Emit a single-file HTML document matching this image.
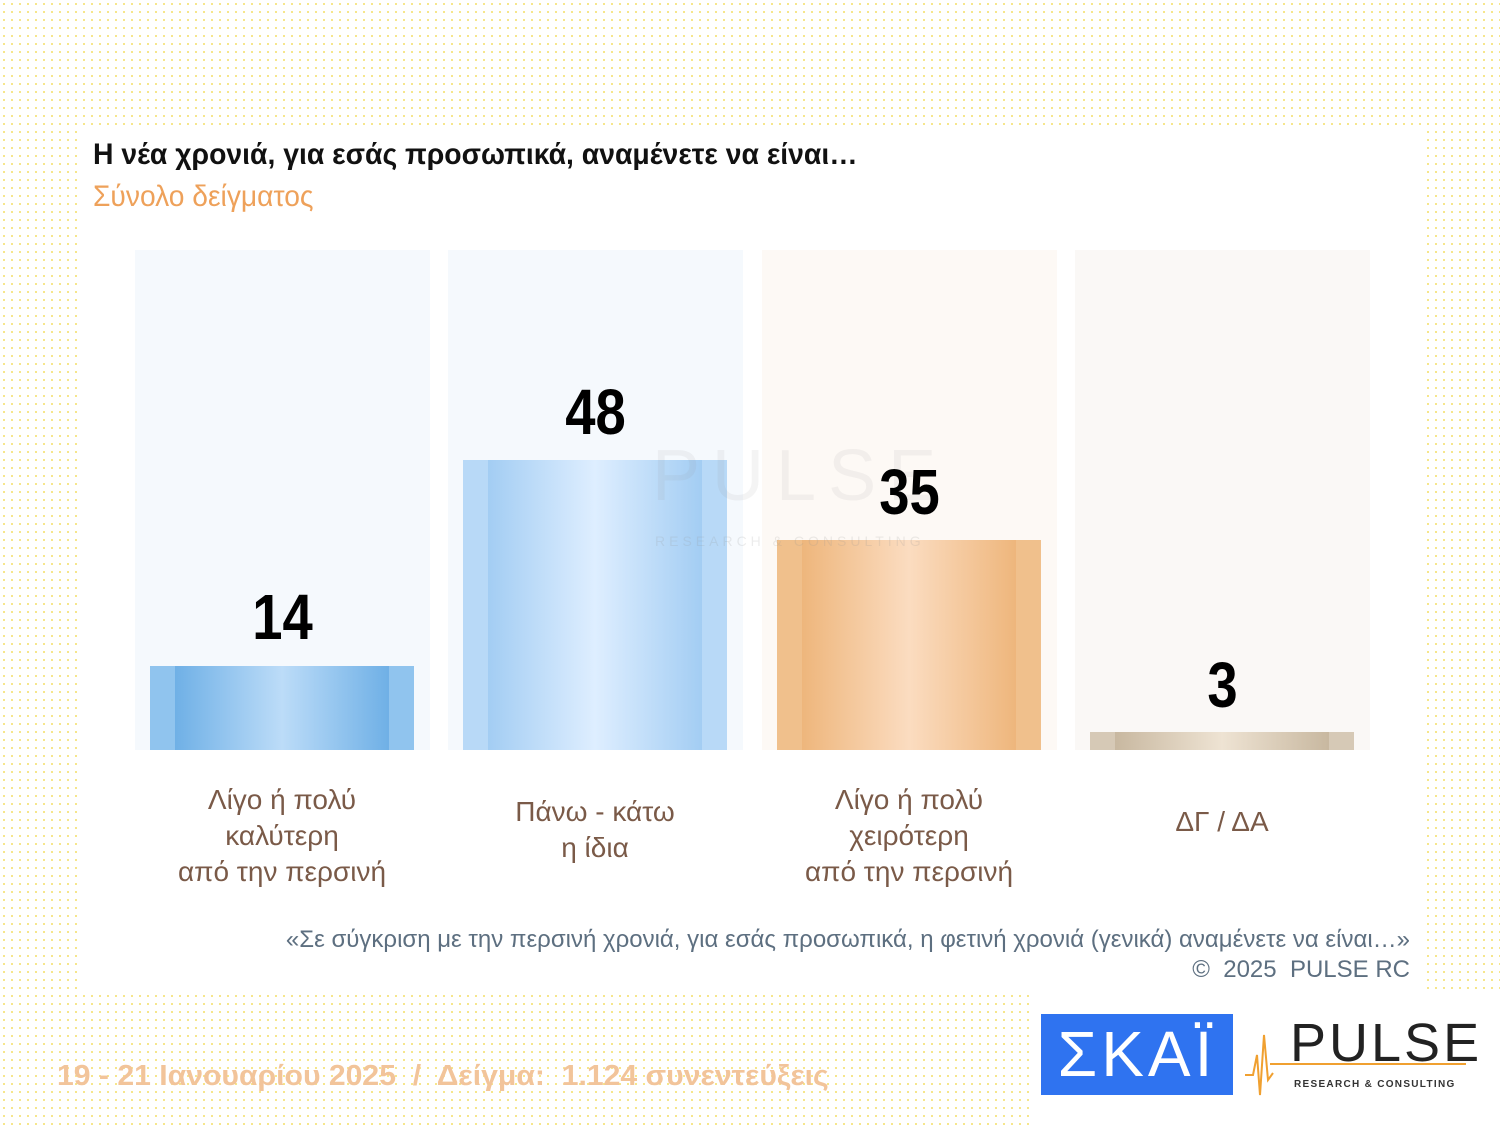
<!DOCTYPE html><html><head><meta charset="utf-8"><style>
body{margin:0;width:1500px;height:1125px;position:relative;overflow:hidden;font-family:"Liberation Sans",sans-serif;
background-color:#fff;background-image:radial-gradient(#f5e27a 0.9px,transparent 1.2px);background-size:8px 8px;}
.abs{position:absolute}
.panel{left:78px;top:125px;width:1347px;height:870px;background:#fff}
.col{top:250px;width:295px;height:500px}
.bar{width:264px}
.num{width:295px;text-align:center;font-weight:bold;font-size:64px;color:#000;transform:scaleX(.85)}
.lab{width:320px;text-align:center;color:#7a5a48;font-size:28px;line-height:36px}
.blue{background:linear-gradient(90deg,#90c4ee 0 25px,#6fb0e6 25px,#bcdcf8 50%,#6fb0e6 calc(100% - 25px),#90c4ee calc(100% - 25px))}
.blue2{background:linear-gradient(90deg,#b8d9f7 0 25px,#a3cdf3 25px,#deeeff 50%,#a3cdf3 calc(100% - 25px),#b8d9f7 calc(100% - 25px))}
.or{background:linear-gradient(90deg,#f0c08c 0 25px,#eeb67c 25px,#fbdcc0 50%,#eeb67c calc(100% - 25px),#f0c08c calc(100% - 25px))}
.gr{background:linear-gradient(90deg,#d6c9b6 0 25px,#c8b8a0 25px,#eee3d3 50%,#c8b8a0 calc(100% - 25px),#d6c9b6 calc(100% - 25px))}
</style></head><body>
<div class="abs panel"></div>
<div class="abs" style="left:93px;top:138px;font-size:30px;font-weight:bold;color:#111;transform:scaleX(.945);transform-origin:0 0">Η νέα χρονιά, για εσάς προσωπικά, αναμένετε να είναι…</div>
<div class="abs" style="left:93px;top:180px;font-size:30px;color:#eea15a;transform:scaleX(.94);transform-origin:0 0">Σύνολο δείγματος</div>

<div class="abs col" style="left:135px;background:#f5f9fd"></div>
<div class="abs col" style="left:448px;background:#f5f9fd"></div>
<div class="abs col" style="left:762px;background:#fdf9f5"></div>
<div class="abs col" style="left:1075px;background:#faf8f6"></div>

<div class="abs bar blue" style="left:150px;top:666px;height:84px"></div>
<div class="abs bar blue2" style="left:463px;top:460px;height:290px"></div>
<div class="abs bar or" style="left:777px;top:540px;height:210px"></div>
<div class="abs bar gr" style="left:1090px;top:732px;height:18px"></div>

<div class="abs" style="left:652px;top:435px;font-size:72px;color:rgba(150,150,150,.1);letter-spacing:12px">PULSE</div>
<div class="abs" style="left:655px;top:533px;font-size:14px;color:rgba(150,150,150,.18);letter-spacing:4px">RESEARCH &amp; CONSULTING</div>

<div class="abs num" style="left:135px;top:580px">14</div>
<div class="abs num" style="left:448px;top:375px">48</div>
<div class="abs num" style="left:762px;top:455px">35</div>
<div class="abs num" style="left:1075px;top:648px">3</div>

<div class="abs lab" style="left:122px;top:782px">Λίγο ή πολύ<br>καλύτερη<br>από την περσινή</div>
<div class="abs lab" style="left:435px;top:794px">Πάνω - κάτω<br>η ίδια</div>
<div class="abs lab" style="left:749px;top:782px">Λίγο ή πολύ<br>χειρότερη<br>από την περσινή</div>
<div class="abs lab" style="left:1062px;top:804px">ΔΓ / ΔΑ</div>

<div class="abs" style="right:90px;top:925px;text-align:right;color:#5d6f80;font-size:24px;line-height:30px">«Σε σύγκριση με την περσινή χρονιά, για εσάς προσωπικά, η φετινή χρονιά (γενικά) αναμένετε να είναι…»<br>©&nbsp; 2025&nbsp; PULSE RC</div>

<div class="abs" style="left:57px;top:1060px;font-size:29px;font-weight:bold;color:#f2c49a;transform:scaleX(1.04);transform-origin:0 0">19 - 21 Ιανουαρίου 2025&nbsp; /&nbsp; Δείγμα:&nbsp; 1.124 συνεντεύξεις</div>

<div class="abs" style="left:1032px;top:995px;width:468px;height:130px;background:#fff"></div>
<div class="abs" style="left:1041px;top:1014px;width:192px;height:81px;background:#2f73f0;color:#fff;font-size:64px;line-height:81px;text-align:center;letter-spacing:4px">ΣΚΑΪ</div>
<svg class="abs" style="left:1245px;top:1015px" width="30" height="85"><polyline points="0,60 8,60 12,40 15,80 19,20 23,65 28,58" fill="none" stroke="#f0a030" stroke-width="2"/></svg>
<div class="abs" style="left:1290px;top:1012px;font-size:54px;color:#222;letter-spacing:3px;font-weight:300">PULSE</div>
<div class="abs" style="left:1270px;top:1063px;width:196px;height:2px;background:#f0a030"></div>
<div class="abs" style="left:1294px;top:1079px;font-size:10px;color:#333;letter-spacing:1.3px;font-weight:bold">RESEARCH &amp; CONSULTING</div>
</body></html>
